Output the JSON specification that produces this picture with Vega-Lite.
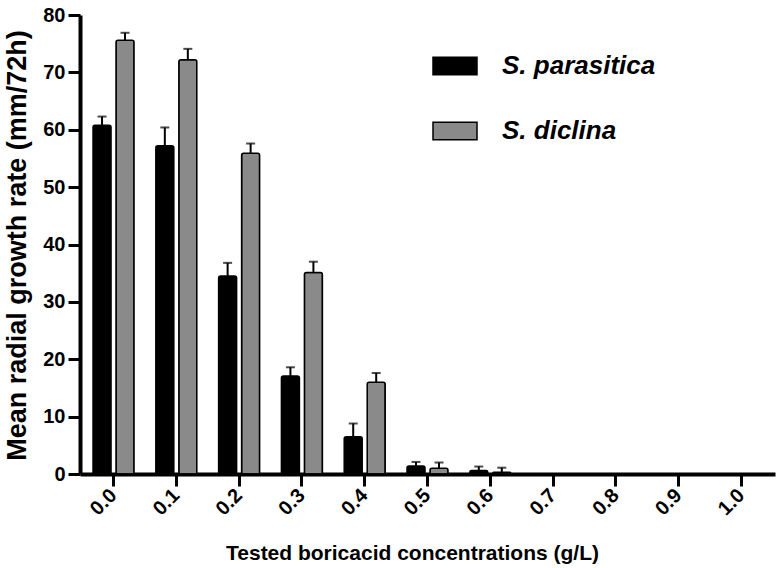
{
  "$schema": "https://vega.github.io/schema/vega-lite/v6.json",
  "width": 695,
  "height": 459,
  "autosize": {"type": "none"},
  "padding": {"left": 80, "top": 15, "right": 4, "bottom": 94},
  "config": {
    "view": {"stroke": null},
    "font": "Liberation Sans",
    "axis": {"grid": false, "domainColor": "#000", "tickColor": "#000", "labelColor": "#000", "titleColor": "#000"}
  },
  "data": {
    "values": [
      {"conc": "0.0", "species": "S. parasitica", "mean": 60.8, "err": 1.5, "upper": 62.3},
      {"conc": "0.0", "species": "S. diclina", "mean": 75.6, "err": 1.3, "upper": 76.9},
      {"conc": "0.1", "species": "S. parasitica", "mean": 57.2, "err": 3.2, "upper": 60.4},
      {"conc": "0.1", "species": "S. diclina", "mean": 72.2, "err": 1.9, "upper": 74.1},
      {"conc": "0.2", "species": "S. parasitica", "mean": 34.5, "err": 2.3, "upper": 36.8},
      {"conc": "0.2", "species": "S. diclina", "mean": 55.9, "err": 1.7, "upper": 57.6},
      {"conc": "0.3", "species": "S. parasitica", "mean": 17.1, "err": 1.5, "upper": 18.6},
      {"conc": "0.3", "species": "S. diclina", "mean": 35.1, "err": 1.9, "upper": 37.0},
      {"conc": "0.4", "species": "S. parasitica", "mean": 6.5, "err": 2.3, "upper": 8.8},
      {"conc": "0.4", "species": "S. diclina", "mean": 16.0, "err": 1.6, "upper": 17.6},
      {"conc": "0.5", "species": "S. parasitica", "mean": 1.4, "err": 0.7, "upper": 2.1},
      {"conc": "0.5", "species": "S. diclina", "mean": 1.0, "err": 1.0, "upper": 2.0},
      {"conc": "0.6", "species": "S. parasitica", "mean": 0.6, "err": 0.7, "upper": 1.3},
      {"conc": "0.6", "species": "S. diclina", "mean": 0.3, "err": 0.8, "upper": 1.1},
      {"conc": "0.7", "species": "S. parasitica", "mean": 0, "err": 0, "upper": 0},
      {"conc": "0.7", "species": "S. diclina", "mean": 0, "err": 0, "upper": 0},
      {"conc": "0.8", "species": "S. parasitica", "mean": 0, "err": 0, "upper": 0},
      {"conc": "0.8", "species": "S. diclina", "mean": 0, "err": 0, "upper": 0},
      {"conc": "0.9", "species": "S. parasitica", "mean": 0, "err": 0, "upper": 0},
      {"conc": "0.9", "species": "S. diclina", "mean": 0, "err": 0, "upper": 0},
      {"conc": "1.0", "species": "S. parasitica", "mean": 0, "err": 0, "upper": 0},
      {"conc": "1.0", "species": "S. diclina", "mean": 0, "err": 0, "upper": 0}
    ]
  },
  "encoding": {
    "x": {
      "field": "conc", "type": "nominal",
      "scale": {"paddingInner": 0.347, "paddingOuter": 0.2075},
      "axis": {
        "title": "Tested boricacid concentrations (g/L)",
        "titleFont": "Liberation Sans", "titleFontSize": 21, "titleFontWeight": "bold",
        "titleX": 332, "titleY": 85, "titleBaseline": "alphabetic", "titleAnchor": "middle",
        "labelAngle": -45, "labelAlign": "right", "labelBaseline": "middle",
        "labelFontSize": 20, "labelFontWeight": "bold", "labelPadding": 6,
        "tickSize": 12, "tickWidth": 3, "domainWidth": 4
      }
    },
    "xOffset": {
      "field": "species", "type": "nominal",
      "scale": {"domain": ["S. parasitica", "S. diclina"], "paddingInner": 0.217, "paddingOuter": 0}
    }
  },
  "layer": [
    {
      "mark": {"type": "bar", "stroke": "#000", "strokeWidth": 1.5, "cornerRadiusTopLeft": 2, "cornerRadiusTopRight": 2},
      "encoding": {
        "y": {
          "field": "mean", "type": "quantitative",
          "scale": {"domain": [0, 80], "nice": false},
          "axis": {
            "title": "Mean radial growth rate  (mm/72h)",
            "titleFontSize": 27, "titleFontWeight": "bold",
            "titleX": -63, "titleY": 230, "titleAngle": -90, "titleBaseline": "middle", "titleAnchor": "middle",
            "values": [0, 10, 20, 30, 40, 50, 60, 70, 80],
            "labelFontSize": 20, "labelFontWeight": "bold", "labelPadding": 3,
            "tickSize": 12, "tickWidth": 3, "domainWidth": 4
          }
        },
        "fill": {
          "field": "species", "type": "nominal",
          "scale": {"domain": ["S. parasitica", "S. diclina"], "range": ["#000000", "#8a8a8a"]},
          "legend": {
            "title": null, "orient": "none", "legendX": 352, "legendY": 28,
            "symbolType": "M-1,-0.4H1V0.4H-1Z", "symbolSize": 1936,
            "symbolStrokeColor": "#000", "symbolStrokeWidth": 1.5,
            "labelFont": "Liberation Sans", "labelFontSize": 26, "labelFontWeight": "bold", "labelFontStyle": "italic",
            "labelColor": "#000", "labelOffset": 24, "rowPadding": 29, "padding": 0
          }
        }
      }
    },
    {
      "transform": [{"filter": "datum.err > 0"}],
      "mark": {"type": "rule", "color": "#000", "strokeWidth": 2},
      "encoding": {
        "y": {"field": "mean", "type": "quantitative"},
        "y2": {"field": "upper"}
      }
    },
    {
      "transform": [{"filter": "datum.err > 0"}],
      "mark": {"type": "tick", "color": "#000", "thickness": 2, "size": 9, "orient": "horizontal"},
      "encoding": {
        "y": {"field": "upper", "type": "quantitative"}
      }
    }
  ]
}
